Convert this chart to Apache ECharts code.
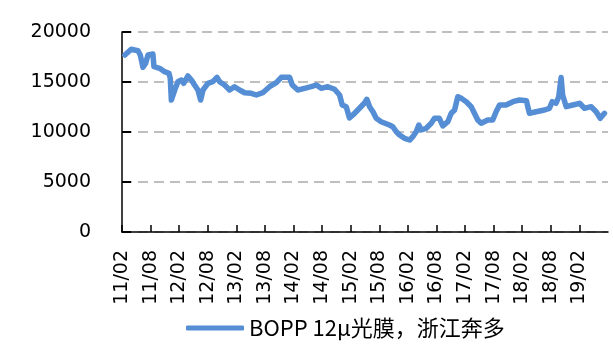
<!DOCTYPE html>
<html>
<head>
<meta charset="utf-8">
<script src="https://cdn.jsdelivr.net/npm/echarts@6/dist/echarts.min.js"></script>
<style>
  html, body { margin: 0; padding: 0; background: #fff; }
  #chart { width: 613px; height: 345px; }
</style>
</head>
<body>
<div id="chart"></div>
<script>
// BOPP 12μ film price, Zhejiang (yuan/ton)
const seriesName = 'BOPP 12μ光膜，浙江奔多';
const dates = [
  '2011-02-18','2011-03-30','2011-05-12','2011-05-27','2011-06-13','2011-06-30','2011-07-15','2011-08-16','2011-08-23','2011-09-28',
  '2011-10-30','2011-11-27','2011-12-05','2011-12-12','2012-01-03','2012-01-24','2012-02-14','2012-02-28','2012-03-27','2012-04-18',
  '2012-05-08','2012-05-30','2012-06-16','2012-07-01','2012-08-02','2012-09-03','2012-09-29','2012-10-16','2012-11-17','2012-12-19',
  '2013-01-20','2013-02-20','2013-03-24','2013-05-05','2013-06-07','2013-07-18','2013-08-31','2013-10-13','2013-11-14','2014-01-06',
  '2014-01-24','2014-02-26','2014-04-11','2014-05-23','2014-06-25','2014-07-26','2014-09-07','2014-10-20','2014-11-21','2014-12-08',
  '2015-01-03','2015-01-24','2015-02-14','2015-03-16','2015-04-28','2015-05-13','2015-05-31','2015-06-21','2015-07-12','2015-08-13',
  '2015-10-05','2015-10-27','2015-11-18','2015-12-09','2016-01-10','2016-02-12','2016-03-02','2016-03-24','2016-04-10','2016-04-25',
  '2016-05-27','2016-06-28','2016-07-19','2016-08-20','2016-09-11','2016-10-13','2016-11-04','2016-11-25','2016-12-16','2017-01-07',
  '2017-02-08','2017-03-10','2017-03-31','2017-04-21','2017-05-13','2017-06-24','2017-07-26','2017-08-17','2017-09-08','2017-10-20',
  '2017-12-02','2018-01-14','2018-02-26','2018-03-06','2018-03-17','2018-04-29','2018-06-21','2018-07-23','2018-08-10','2018-09-04',
  '2018-09-21','2018-10-06','2018-10-16','2018-11-08','2018-12-20','2019-02-02','2019-03-03','2019-04-15','2019-05-17','2019-06-12',
  '2019-07-09'
];
const prices = [
  17700,18270,18130,17700,16470,16870,17700,17800,16530,16370,
  16030,15870,15370,13200,14200,15030,15200,14870,15600,15200,
  14700,14200,13200,14200,14870,15030,15470,15030,14700,14200,
  14530,14200,13930,13870,13700,13930,14530,14930,15470,15470,
  14700,14200,14370,14530,14700,14370,14530,14270,13700,12700,
  12530,11400,11700,12200,12900,13270,12530,12030,11370,11030,
  10700,10530,10030,9700,9370,9200,9530,10030,10700,10200,
  10370,10870,11370,11370,10600,11030,11870,12200,13530,13370,
  13030,12530,11870,11200,10870,11200,11200,12030,12700,12700,
  13030,13200,13130,12530,11870,12030,12200,12370,13030,12870,
  13530,15450,13700,12530,12700,12870,12370,12530,12030,11370,
  11870
];
const tickLabels = ['11/02','11/08','12/02','12/08','13/02','13/08','14/02','14/08','15/02','15/08','16/02','16/08','17/02','17/08','18/02','18/08','19/02'];

// months elapsed since 2011-02-01
function monthOffset(s) {
  const [y, m, d] = s.split('-').map(Number);
  const dim = new Date(y, m, 0).getDate();
  return (y - 2011) * 12 + (m - 2) + (d - 1) / dim;
}
const points = dates.map((d, i) => [monthOffset(d), prices[i]]);

const chart = echarts.init(document.getElementById('chart'));
const fontFam = 'DejaVu Sans, sans-serif';
chart.setOption({
  animation: false,
  grid: { left: 122, right: 5, top: 32, bottom: 113, containLabel: false },
  legend: {
    bottom: 1,
    left: 181,
    icon: 'roundRect',
    itemWidth: 58,
    itemHeight: 5,
    itemGap: 4,
    textStyle: { fontFamily: 'Noto Sans CJK SC, DejaVu Sans, sans-serif', fontSize: 22, color: '#000' },
    data: [seriesName]
  },
  xAxis: {
    type: 'value',
    min: 0,
    max: 102,
    interval: 6,
    axisLine: { lineStyle: { color: '#000', width: 1.5 } },
    axisTick: { inside: true, length: 7, lineStyle: { color: '#000', width: 1.5 } },
    splitLine: { show: false },
    axisLabel: {
      rotate: 90,
      margin: 18,
      fontFamily: fontFam,
      fontSize: 19,
      color: '#000',
      padding: [10, 0, 0, 0],
      showMaxLabel: false,
      formatter: v => tickLabels[Math.round(v / 6)] || ''
    }
  },
  yAxis: {
    type: 'value',
    min: 0,
    max: 20000,
    interval: 5000,
    axisLine: { show: true, lineStyle: { color: '#000', width: 1.5 } },
    axisTick: { show: true, inside: true, length: 9, lineStyle: { color: '#000', width: 2 } },
    splitLine: { show: true, lineStyle: { color: '#BFBFBF', width: 2, type: [10, 6] } },
    axisLabel: { margin: 31, fontFamily: fontFam, fontSize: 19, color: '#000', formatter: v => String(v) }
  },
  series: [{
    name: seriesName,
    type: 'line',
    data: points,
    symbol: 'none',
    z: 3,
    lineStyle: { color: '#558ED5', width: 5.5, cap: 'round', join: 'round' },
    itemStyle: { color: '#558ED5' }
  }]
});
</script>
</body>
</html>
